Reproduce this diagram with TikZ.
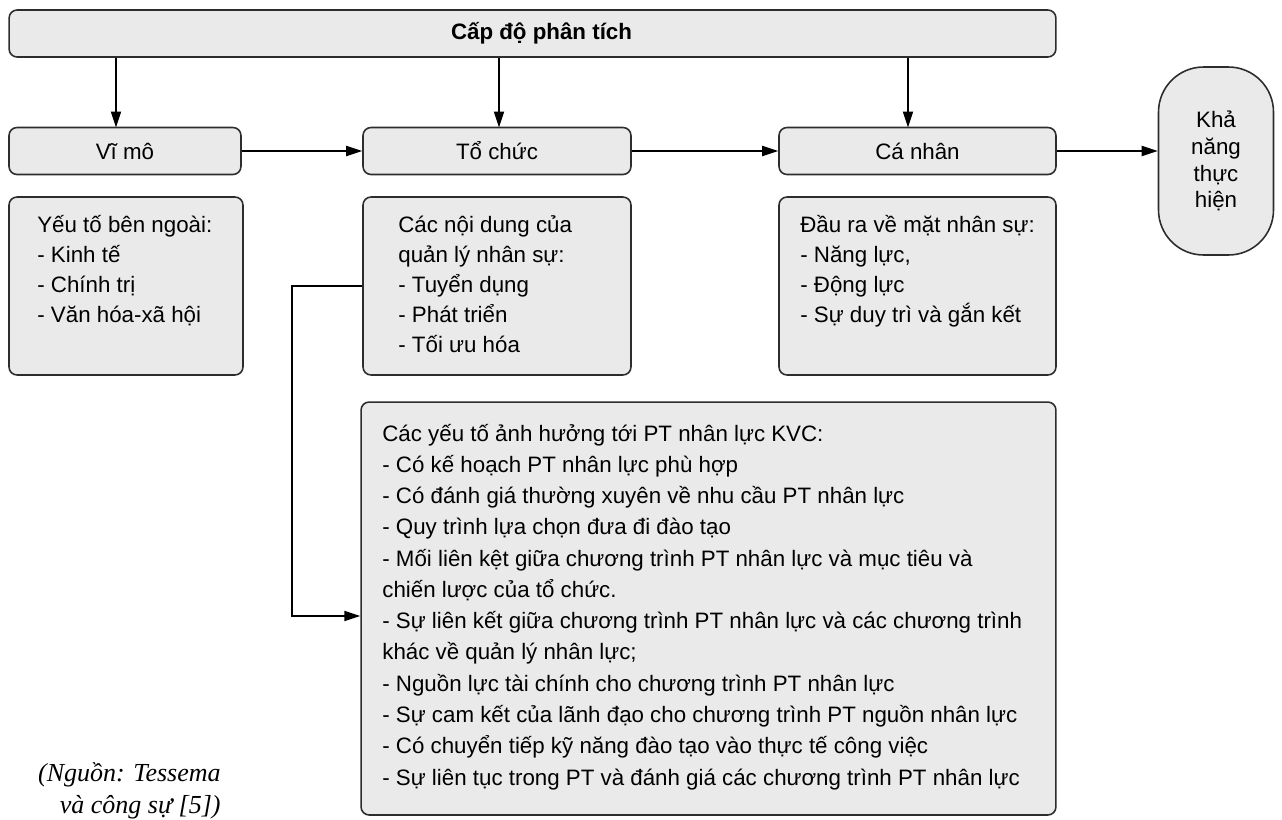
\documentclass[tikz,border=0pt]{standalone}
\usepackage{fontspec}
\setmainfont{Liberation Sans}
\newfontfamily\srcfont{Liberation Serif}
\usetikzlibrary{arrows.meta}

\definecolor{boxfill}{RGB}{234,234,234}
\definecolor{boxline}{RGB}{45,45,45}

\begin{document}
\begin{tikzpicture}
        [x=0.02cm, y=-0.02cm,
         every node/.style={inner sep=0, font=\fontsize{12.7}{17}\selectfont},
         box/.style={draw=boxline, fill=boxfill, line width=0.9pt, rounded corners=0.16cm},
         txt/.style={anchor=base west, align=left},
         arr/.style={line width=1.1pt, -{Triangle[length=0.32cm,width=0.2cm]}}]

        \useasboundingbox (0,0) rectangle (1282,819);

        \node[box, minimum width=20.94cm, minimum height=0.94cm, font=\fontsize{12.7}{17}\selectfont\bfseries] (capdo) at (532.5,33.5) {\hspace*{0.36cm}Cấp độ phân tích};

        \node[box, minimum width=4.64cm, minimum height=0.94cm] (vimo) at (125,151) {Vĩ mô};
        \node[box, minimum width=5.36cm, minimum height=0.94cm] (tochuc) at (497,151) {Tổ chức};
        \node[box, minimum width=5.54cm, minimum height=0.94cm] (canhan) at (917.5,151) {Cá nhân};
        \node[box, rounded corners=0.9cm, minimum width=2.3cm, minimum height=3.76cm, align=center,
              font=\fontsize{12.7}{15.3}\selectfont] (kha) at (1216,161) {Khả\\năng\\thực\\hiện};

        \node[box, minimum width=4.68cm, minimum height=3.56cm] (ngoai) at (126,286) {};
        \node[box, minimum width=5.36cm, minimum height=3.56cm] (noidung) at (497,286) {};
        \node[box, minimum width=5.54cm, minimum height=3.56cm] (daura) at (917.5,286) {};
        \node[box, minimum width=13.9cm, minimum height=8.26cm] (yeuto) at (708.5,608.5) {};

        % base = baseline of the last line
        \node[txt] (ngoai-txt) at (37,322) {Yếu tố bên ngoài:\\- Kinh tế\\- Chính trị\\- Văn hóa-xã hội};
        \node[txt] (noidung-txt) at (398,352) {Các nội dung của\\quản lý nhân sự:\\- Tuyển dụng\\- Phát triển\\- Tối ưu hóa};
        \node[txt] (daura-txt) at (800,322) {Đầu ra về mặt nhân sự:\\- Năng lực,\\- Động lực\\- Sự duy trì và gắn kết};
        \node[txt, font=\fontsize{12.7}{17.8}\selectfont] (yeuto-txt) at (382,785) {Các yếu tố ảnh hưởng tới PT nhân lực KVC:\\
          - Có kế hoạch PT nhân lực phù hợp\\
          - Có đánh giá thường xuyên về nhu cầu PT nhân lực\\
          - Quy trình lựa chọn đưa đi đào tạo\\
          - Mối liên kệt giữa chương trình PT nhân lực và mục tiêu và\\
          chiến lược của tổ chức.\\
          - Sự liên kết giữa chương trình PT nhân lực và các chương trình\\
          khác về quản lý nhân lực;\\
          - Nguồn lực tài chính cho chương trình PT nhân lực\\
          - Sự cam kết của lãnh đạo cho chương trình PT nguồn nhân lực\\
          - Có chuyển tiếp kỹ năng đào tạo vào thực tế công việc\\
          - Sự liên tục trong PT và đánh giá các chương trình PT nhân lực};

        \node[anchor=base east, align=right, font=\srcfont\itshape\fontsize{14.8}{18}\selectfont] (nguon) at (221,813) {(Nguồn: Tessema\\và công sự [5])};

        \coordinate (knee) at (292,616);
        \coordinate (vimo-in) at (116,127.5);
        \coordinate (tochuc-in) at (499,127.5);
        \coordinate (canhan-in) at (908,127.5);

        \draw[arr] (capdo.south -| vimo-in) -- (vimo-in);
        \draw[arr] (capdo.south -| tochuc-in) -- (tochuc-in);
        \draw[arr] (capdo.south -| canhan-in) -- (canhan-in);
        \draw[arr] (vimo.east) -- (tochuc.west);
        \draw[arr] (tochuc.east) -- (canhan.west);
        \draw[arr] (canhan.east) -- (canhan.east -| kha.west);
        \draw[arr] (noidung.west) -| (knee) -- (knee -| yeuto.west);

      \end{tikzpicture}
\end{document}
